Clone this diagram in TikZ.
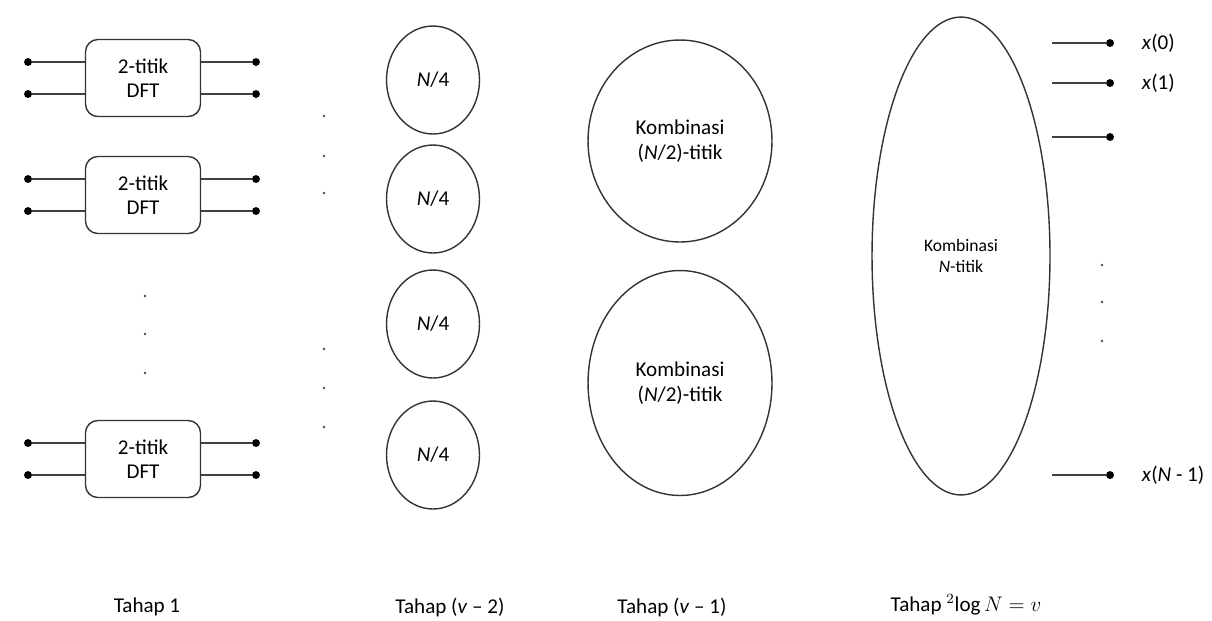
\documentclass[tikz,border=0pt]{standalone}
\usepackage{fontspec}
\setmainfont{Carlito}
\usetikzlibrary{positioning, shapes.geometric}

\begin{document}
\begin{tikzpicture}[x=0.02cm, y=-0.02cm,
    dftbox/.style={rectangle, rounded corners=7pt, draw=black!80, line width=0.8pt, minimum width=2.3cm, minimum height=1.54cm, align=center, font=\large},
    pin/.style={circle, fill=black, inner sep=0pt, minimum size=4.5pt},
    wire/.style={draw=black!75, line width=0.8pt},
    blob/.style={ellipse, draw=black!80, line width=0.8pt, inner sep=0pt, align=center, font=\large},
    dotmark/.style={circle, fill=black!70, inner sep=0pt, minimum size=1.6pt},
    stage/.style={font=\large}
]
    \useasboundingbox (0,0) rectangle (1212,620);

    % Stage 1: 2-point DFT blocks
    \foreach \n/\y in {1/78, 2/195, 3/459} {
        \node[dftbox] (dft\n) at (143,\y) {2-titik\\DFT};
        \foreach \k/\d in {a/-16, b/16} {
            \node[pin] (in\n\k) at (28,\y+\d) {};
            \node[pin] (out\n\k) at (256,\y+\d) {};
            \draw[wire] (in\n\k) -- (in\n\k -| dft\n.west);
            \draw[wire] (out\n\k -| dft\n.east) -- (out\n\k);
        }
    }
    \foreach \y [count=\i] in {296, 334, 373} {
        \node[dotmark] (gap1\i) at (145,\y) {};
    }

    % Stage (v-2): N/4 blocks
    \foreach \y [count=\i] in {80, 199, 324, 455} {
        \node[blob, minimum width=1.86cm, minimum height=2.16cm] (quart\i) at (433,\y) {\textit{N}/4};
    }
    \foreach \y [count=\i] in {116, 156, 193, 349, 388, 427} {
        \node[dotmark] (gap2\i) at (324,\y) {};
    }

    % Stage (v-1): (N/2)-point combinations
    \node[blob, minimum width=3.68cm, minimum height=4.04cm] (comb1) at (680,141) {Kombinasi\\(\textit{N}/2)-titik};
    \node[blob, minimum width=3.68cm, minimum height=4.5cm] (comb2) at (680,383) {Kombinasi\\(\textit{N}/2)-titik};

    % Last stage: N-point combination
    \node[blob, font=\normalsize, minimum width=3.56cm, minimum height=9.56cm] (combN) at (961,256) {Kombinasi\\\textit{N}-titik};

    % Outputs
    \foreach \y/\lab/\nm in {43/\textit{x}(0)/o0, 83/\textit{x}(1)/o1, 137//o2, 475/\textit{x}(\textit{N} - 1)/oN} {
        \coordinate (s\nm) at (1052,\y);
        \node[pin] (p\nm) at (1110,\y) {};
        \draw[wire] (s\nm) -- (p\nm);
        \node[right=18pt of p\nm.center, anchor=west, inner sep=0pt, font=\large] (l\nm) {\lab};
    }
    \foreach \y [count=\i] in {265, 302, 341} {
        \node[dotmark] (gap3\i) at (1102,\y) {};
    }

    % Stage labels
    \node[stage] (t1) at (147,607) {Tahap 1};
    \node[stage] (t2) at (450,607) {Tahap (\textit{v} -- 2)};
    \node[stage] (t3) at (672,607) {Tahap (\textit{v} -- 1)};
    \node[stage] (t4) at (966,605) {Tahap $^2\!\log N = v$};
\end{tikzpicture}
\end{document}
